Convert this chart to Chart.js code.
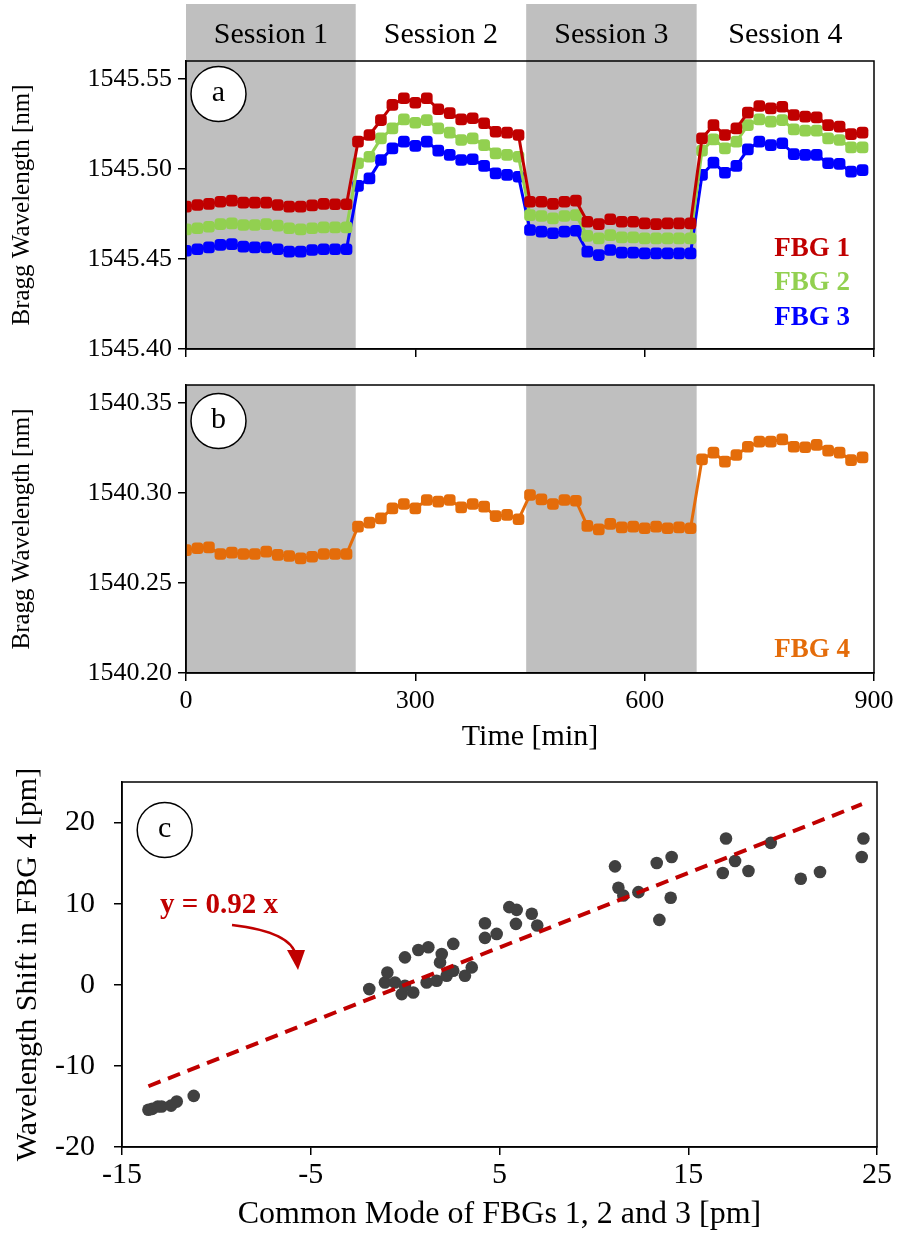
<!DOCTYPE html>
<html><head><meta charset="utf-8">
<script src="https://cdn.jsdelivr.net/npm/chart.js@4/dist/chart.umd.min.js"></script>
<style>
html,body{margin:0;padding:0;background:#fff;}
#wrap{position:relative;width:906px;height:1245px;overflow:hidden;background:#fff;}
canvas{position:absolute;left:0;}
</style></head><body>
<div id="wrap">
<canvas id="cA" width="906" height="360" style="top:0px"></canvas>
<canvas id="cB" width="906" height="400" style="top:360px"></canvas>
<canvas id="cC" width="906" height="485" style="top:760px"></canvas>
</div>
<script>
// ---------------- DATA ----------------
const TIME = [0,15,30,45,60,75,90,105,120,135,150,165,180,195,210,
  225,240,255,270,285,300,315,330,345,360,375,390,405,420,435,
  450,465,480,495,510,525,540,555,570,585,600,615,630,645,660,
  675,690,705,720,735,750,765,780,795,810,825,840,855,870,885];
const SESSIONS = ['Session 1','Session 2','Session 3','Session 4'];
const SESSION_EDGES = [0,222,445,668,900];
const TIME_TICKS = [0,300,600,900];
const A_TICKS = [1545.40,1545.45,1545.50,1545.55];
const B_TICKS = [1540.20,1540.25,1540.30,1540.35];
const FBG1 = [1545.4791,1545.4800,1545.4806,1545.4818,1545.4824,1545.4813,1545.4813,1545.4813,1545.4800,1545.4791,1545.4791,1545.4798,1545.4806,1545.4804,1545.4804,
  1545.5152,1545.5189,1545.5272,1545.5356,1545.5393,1545.5368,1545.5393,1545.5332,1545.5310,1545.5276,1545.5282,1545.5254,1545.5207,1545.5202,1545.5189,
  1545.4818,1545.4818,1545.4806,1545.4818,1545.4824,1545.4707,1545.4694,1545.4721,1545.4707,1545.4707,1545.4698,1545.4694,1545.4698,1545.4698,1545.4698,
  1545.5170,1545.5244,1545.5189,1545.5226,1545.5313,1545.5350,1545.5337,1545.5346,1545.5300,1545.5291,1545.5287,1545.5244,1545.5235,1545.5194,1545.5202];
const FBG2 = [1545.4665,1545.4671,1545.4679,1545.4694,1545.4698,1545.4689,1545.4689,1545.4694,1545.4685,1545.4671,1545.4665,1545.4671,1545.4676,1545.4676,1545.4676,
  1545.5032,1545.5068,1545.5170,1545.5226,1545.5276,1545.5257,1545.5272,1545.5226,1545.5202,1545.5161,1545.5170,1545.5133,1545.5087,1545.5078,1545.5068,
  1545.4744,1545.4739,1545.4726,1545.4739,1545.4744,1545.4628,1545.4615,1545.4633,1545.4620,1545.4620,1545.4615,1545.4615,1545.4615,1545.4615,1545.4615,
  1545.5102,1545.5165,1545.5115,1545.5152,1545.5244,1545.5276,1545.5263,1545.5272,1545.5220,1545.5213,1545.5213,1545.5170,1545.5161,1545.5120,1545.5120];
const FBG3 = [1545.4546,1545.4554,1545.4565,1545.4578,1545.4583,1545.4569,1545.4565,1545.4565,1545.4554,1545.4541,1545.4541,1545.4550,1545.4554,1545.4554,1545.4554,
  1545.4906,1545.4948,1545.5050,1545.5115,1545.5152,1545.5128,1545.5152,1545.5102,1545.5078,1545.5050,1545.5054,1545.5017,1545.4976,1545.4967,1545.4957,
  1545.4661,1545.4652,1545.4643,1545.4652,1545.4657,1545.4541,1545.4522,1545.4550,1545.4535,1545.4535,1545.4531,1545.4531,1545.4531,1545.4531,1545.4531,
  1545.4967,1545.5035,1545.4979,1545.5017,1545.5109,1545.5152,1545.5133,1545.5143,1545.5083,1545.5078,1545.5078,1545.5032,1545.5028,1545.4985,1545.4994];
const FBG4 = [1540.2683,1540.2693,1540.2698,1540.2661,1540.2669,1540.2661,1540.2661,1540.2674,1540.2656,1540.2650,1540.2637,1540.2646,1540.2661,1540.2661,1540.2661,
  1540.2813,1540.2835,1540.2859,1540.2915,1540.2939,1540.2915,1540.2961,1540.2952,1540.2961,1540.2920,1540.2939,1540.2924,1540.2872,1540.2878,1540.2854,
  1540.2989,1540.2965,1540.2939,1540.2961,1540.2957,1540.2817,1540.2798,1540.2828,1540.2809,1540.2813,1540.2804,1540.2813,1540.2804,1540.2809,1540.2804,
  1540.3187,1540.3224,1540.3174,1540.3211,1540.3257,1540.3285,1540.3285,1540.3298,1540.3257,1540.3254,1540.3267,1540.3235,1540.3224,1540.3183,1540.3198];
// Panel c
const CM_X = [-13.6,-13.4,-13.1,-12.9,-12.4,-12.1,-11.2,
  -1.90,-1.07,-0.94,-0.54,-0.18,-0.01,0.43,-0.01,0.70,1.23,1.14,1.67,1.94,1.85,2.20,2.55,2.55,3.17,3.53,4.23,4.23,4.85,5.52,5.91,5.87,6.71,7.00,
  11.12,11.30,11.56,12.36,13.33,14.12,14.07,13.47,17.00,16.83,17.48,18.19,19.37,20.96,21.98,24.28,24.19];
const FBG4_SHIFT = [-15.4,-15.3,-15.0,-15.0,-14.9,-14.4,-13.7,
  -0.53,0.29,1.52,0.29,-1.15,-0.12,-0.95,3.38,4.29,4.62,0.29,0.50,3.80,2.76,1.11,5.04,1.73,1.11,2.14,7.59,5.78,6.27,9.57,9.24,7.51,8.75,7.30,
  14.60,11.96,11.01,11.42,15.01,15.76,10.73,8.0,18.03,13.78,15.26,14.02,17.49,13.08,13.90,18.03,15.76];
const FIT_SLOPE = 0.92;
const FIT_RANGE = [-13.6, 24.2];
const C_X_TICKS = [-15,-5,5,15,25];
const C_Y_TICKS = [-20,-10,0,10,20];

// ---------------- STYLE ----------------
const SERIF = "'Liberation Serif','Times New Roman',serif";
const RED = '#c00000', GREEN = '#92d050', BLUE = '#0000ff', ORANGE = '#e46c0a', GRAY = '#bfbfbf', DOT = '#404040';
Chart.defaults.font.family = SERIF;
Chart.defaults.color = '#000';

const shadePlugin = {
  id: 'shade',
  beforeDraw(chart, args, o) {
    if (!o || !o.on) return;
    const {ctx, chartArea: ca, scales: {x}} = chart;
    ctx.save();
    ctx.fillStyle = GRAY;
    for (let i = 0; i < SESSIONS.length; i += 2) {
      const x0 = x.getPixelForValue(SESSION_EDGES[i]);
      const x1 = x.getPixelForValue(SESSION_EDGES[i+1]);
      ctx.fillRect(x0, ca.top, x1 - x0, ca.bottom - ca.top);
      if (o.header) ctx.fillRect(x0, 4, x1 - x0, ca.top - 4);
    }
    if (o.header) {
      ctx.fillStyle = '#000';
      ctx.font = '30px ' + SERIF;
      ctx.textAlign = 'center';
      ctx.textBaseline = 'middle';
      for (let i = 0; i < SESSIONS.length; i++) {
        const xc = (x.getPixelForValue(SESSION_EDGES[i]) + x.getPixelForValue(SESSION_EDGES[i+1])) / 2;
        ctx.fillText(SESSIONS[i], xc, 35);
      }
    }
    ctx.restore();
  }
};
const decoPlugin = {
  id: 'deco',
  afterDraw(chart, args, o) {
    if (!o || !o.on) return;
    const {ctx, chartArea: ca} = chart;
    ctx.save();
    ctx.strokeStyle = '#000';
    ctx.lineWidth = 1.5;
    ctx.strokeRect(ca.left, ca.top, ca.right - ca.left, ca.bottom - ca.top);
    // circle label
    ctx.fillStyle = '#fff';
    ctx.beginPath();
    ctx.arc(ca.left + o.cx, ca.top + o.cy, 27.5, 0, Math.PI * 2);
    ctx.fill();
    ctx.lineWidth = 1.5;
    ctx.stroke();
    ctx.fillStyle = '#000';
    ctx.font = '30px ' + SERIF;
    ctx.textAlign = 'center';
    ctx.textBaseline = 'middle';
    ctx.fillText(o.letter, ca.left + o.cx, ca.top + o.cy - 1);
    // legend texts
    ctx.font = 'bold 27px ' + SERIF;
    ctx.textAlign = 'right';
    (o.legend || []).forEach(l => {
      ctx.fillStyle = l.color;
      ctx.fillText(l.text, 850, ca.top + l.dy);
    });
    ctx.restore();
  }
};
const annoPlugin = {
  id: 'anno',
  afterDraw(chart, args, o) {
    if (!o || !o.on) return;
    const {ctx} = chart;
    ctx.save();
    ctx.fillStyle = RED;
    ctx.font = 'bold 29px ' + SERIF;
    ctx.textAlign = 'left';
    ctx.textBaseline = 'middle';
    ctx.fillText('y = ' + FIT_SLOPE.toFixed(2) + ' x', 160, 146);
    // curved arrow
    ctx.strokeStyle = RED;
    ctx.lineWidth = 2.5;
    ctx.beginPath();
    ctx.moveTo(232, 165);
    ctx.quadraticCurveTo(292, 172, 296, 196);
    ctx.stroke();
    ctx.beginPath();
    ctx.moveTo(298, 210);
    ctx.lineTo(287, 190);
    ctx.lineTo(305, 190);
    ctx.closePath();
    ctx.fill();
    ctx.restore();
  }
};
Chart.register(shadePlugin, decoPlugin, annoPlugin);

function axisCommon() {
  return {
    grid: {display: true, drawOnChartArea: false, color: '#000', lineWidth: 1.5, tickLength: 8},
    border: {display: true, color: '#000', width: 1.5},
  };
}
function fixW(w) { return s => { s.width = w; s.paddingTop = 0; s.paddingBottom = 0; s.paddingLeft = 0; s.paddingRight = 0; }; }
function fixH(h) { return s => { s.height = h; s.paddingTop = 0; s.paddingBottom = 0; s.paddingLeft = 0; s.paddingRight = 0; }; }
function series(arr) { return arr.map((v, i) => ({x: TIME[i], y: v})); }
function lineDs(arr, color) {
  return {data: series(arr), borderColor: color, backgroundColor: color, borderWidth: 3,
    pointStyle: 'rectRounded', pointRadius: 6.8, pointBorderWidth: 0, pointBackgroundColor: color, tension: 0};
}
const baseOpts = {responsive: false, animation: false, events: [],
  plugins: {legend: {display: false}, tooltip: {enabled: false}}};

// ---------------- PANEL A ----------------
new Chart(document.getElementById('cA'), {
  type: 'line',
  data: {datasets: [lineDs(FBG1, RED), lineDs(FBG2, GREEN), lineDs(FBG3, BLUE)]},
  options: {...baseOpts,
    layout: {padding: {left: 0, right: 32, top: 61, bottom: 0}},
    plugins: {...baseOpts.plugins,
      shade: {on: true, header: true},
      deco: {on: true, letter: 'a', cx: 32.5, cy: 33,
        legend: [{text: 'FBG 1', color: RED, dy: 188}, {text: 'FBG 2', color: GREEN, dy: 222}, {text: 'FBG 3', color: BLUE, dy: 257}]}},
    scales: {
      x: {type: 'linear', min: 0, max: 900, ...axisCommon(),
        afterBuildTicks: s => { s.ticks = TIME_TICKS.map(v => ({value: v})); },
        ticks: {display: false},
        afterFit: fixH(11)},
      y: {type: 'linear', min: 1545.40, max: 1545.56, ...axisCommon(),
        afterBuildTicks: s => { s.ticks = A_TICKS.map(v => ({value: v})); },
        ticks: {callback: v => v.toFixed(2), font: {size: 26}, padding: 6, color: '#000'},
        title: {display: true, text: 'Bragg Wavelength [nm]', font: {size: 25}, color: '#000', padding: {top: 7, bottom: 0}},
        afterFit: fixW(186)}
    }}
});

// ---------------- PANEL B ----------------
new Chart(document.getElementById('cB'), {
  type: 'line',
  data: {datasets: [lineDs(FBG4, ORANGE)]},
  options: {...baseOpts,
    layout: {padding: {left: 0, right: 32, top: 25, bottom: 0}},
    plugins: {...baseOpts.plugins,
      shade: {on: true, header: false},
      deco: {on: true, letter: 'b', cx: 32.5, cy: 36,
        legend: [{text: 'FBG 4', color: ORANGE, dy: 265}]}},
    scales: {
      x: {type: 'linear', min: 0, max: 900, ...axisCommon(),
        afterBuildTicks: s => { s.ticks = TIME_TICKS.map(v => ({value: v})); },
        ticks: {font: {size: 26}, padding: 5, color: '#000', maxRotation: 0},
        title: {display: true, text: 'Time [min]', font: {size: 30}, color: '#000', padding: {top: 0, bottom: 5}},
        afterFit: fixH(87)},
      y: {type: 'linear', min: 1540.20, max: 1540.36, ...axisCommon(),
        afterBuildTicks: s => { s.ticks = B_TICKS.map(v => ({value: v})); },
        ticks: {callback: v => v.toFixed(2), font: {size: 26}, padding: 6, color: '#000'},
        title: {display: true, text: 'Bragg Wavelength [nm]', font: {size: 25}, color: '#000', padding: {top: 7, bottom: 0}},
        afterFit: fixW(186)}
    }}
});

// ---------------- PANEL C ----------------
new Chart(document.getElementById('cC'), {
  type: 'scatter',
  data: {datasets: [
    {type: 'line', data: FIT_RANGE.map(v => ({x: v, y: FIT_SLOPE * v})), borderColor: RED, borderWidth: 4,
      borderDash: [13, 8], pointRadius: 0, order: 0},
    {data: CM_X.map((v, i) => ({x: v, y: FBG4_SHIFT[i]})), backgroundColor: DOT, borderColor: DOT,
      pointRadius: 6.3, pointBorderWidth: 0, order: 1}
  ]},
  options: {...baseOpts,
    layout: {padding: {left: 0, right: 29, top: 22, bottom: 0}},
    plugins: {...baseOpts.plugins,
      deco: {on: true, letter: 'c', cx: 42.7, cy: 48, legend: []},
      anno: {on: true}},
    scales: {
      x: {type: 'linear', min: -15, max: 25, ...axisCommon(),
        afterBuildTicks: s => { s.ticks = C_X_TICKS.map(v => ({value: v})); },
        ticks: {font: {size: 30}, padding: 2, color: '#000', maxRotation: 0},
        title: {display: true, text: 'Common Mode of FBGs 1, 2 and 3 [pm]', font: {size: 32}, color: '#000', padding: {top: 0, bottom: 11}},
        afterFit: fixH(98)},
      y: {type: 'linear', min: -20, max: 25, ...axisCommon(),
        afterBuildTicks: s => { s.ticks = C_Y_TICKS.map(v => ({value: v})); },
        ticks: {font: {size: 30}, padding: 19, color: '#000'},
        title: {display: true, text: 'Wavelength Shift in FBG 4 [pm]', font: {size: 30}, color: '#000', padding: {top: 10, bottom: 0}},
        afterFit: fixW(122)}
    }}
});
</script>
</body></html>
